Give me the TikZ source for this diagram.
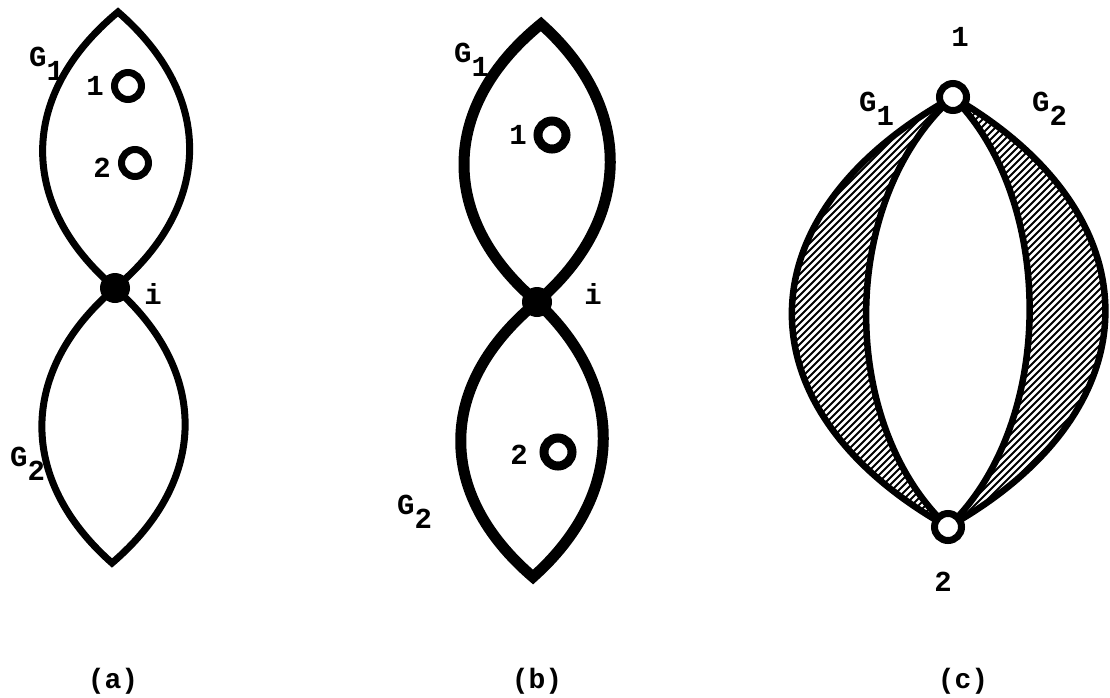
\documentclass[tikz,border=0pt]{standalone}
\usepackage{fontspec}
\setmonofont{Liberation Mono}
\usetikzlibrary{positioning}

\newcommand{\glab}[1]{G\raisebox{-14pt}{#1}}

\begin{document}
\begin{tikzpicture}[x=1pt, y=-1pt,
    every node/.style={font=\ttfamily\bfseries\fontsize{29}{29}\selectfont, inner sep=0pt},
    thinlens/.style={line width=7pt, line join=miter},
    thicklens/.style={line width=11pt, line join=miter},
    clens/.style={line width=6.5pt},
    hatch/.style={line width=2pt},
    vertex/.style={circle, draw, line width=7pt, fill=white, minimum size=27pt},
    bvertex/.style={vertex, line width=9pt, minimum size=28pt},
    hub/.style={circle, fill, minimum size=30pt},
    caption/.style={font=\ttfamily\bfseries\fontsize{28}{28}\selectfont}]
  \useasboundingbox (0,0) rectangle (1110,697);

  % (a)
  \coordinate (atop) at (118,12);
  \coordinate (ai) at (115,288);
  \coordinate (abot) at (112,563);
  \draw[thinlens] (atop) .. controls (18,95) and (18,205) .. (ai)
    .. controls (214,205) and (214,95) .. cycle;
  \draw[thinlens] (ai) .. controls (18,371) and (18,480) .. (abot)
    .. controls (209,480) and (209,371) .. cycle;
  \node[hub] (ahub) at (ai) {};
  \node[vertex] (a1) at (128,86) {};
  \node[vertex] (a2) at (135,163) {};
  \node at (95,86) {1};
  \node at (102,168) {2};
  \node at (153,294) {i};
  \node[anchor=base west] at (29,66) {\glab{1}};
  \node[anchor=base west] at (10,466) {\glab{2}};

  % (b)
  \coordinate (btop) at (541,24);
  \coordinate (bi) at (537,302);
  \coordinate (bbot) at (533,577);
  \draw[thicklens] (btop) .. controls (439,107) and (439,219) .. (bi)
    .. controls (634,219) and (634,107) .. cycle;
  \draw[thicklens] (bi) .. controls (436,385) and (436,494) .. (bbot)
    .. controls (626,494) and (626,385) .. cycle;
  \node[hub] (bhub) at (bi) {};
  \node[bvertex] (b1) at (552,135) {};
  \node[bvertex] (b2) at (558,452) {};
  \node at (518,135) {1};
  \node at (519,455) {2};
  \node at (593,294) {i};
  \node[anchor=base west] at (454,62) {\glab{1}};
  \node[anchor=base west] at (397,514) {\glab{2}};

  % (c)
  \coordinate (p1) at (953,97);
  \coordinate (p2) at (948,527);
  \begin{scope}
    \clip (p1) .. controls (739,215) and (739,410) .. (p2)
      .. controls (838,424) and (838,200) .. (p1)
      (p1) .. controls (1157,215) and (1157,410) .. (p2)
      .. controls (1056,424) and (1056,200) .. (p1);
    \foreach \k in {250,257,...,1060}
      \draw[hatch] (\k,600) -- ++(600,-600);
  \end{scope}
  \draw[clens] (p1) .. controls (739,215) and (739,410) .. (p2);
  \draw[clens] (p1) .. controls (838,200) and (838,424) .. (p2);
  \draw[clens] (p1) .. controls (1056,200) and (1056,424) .. (p2);
  \draw[clens] (p1) .. controls (1157,215) and (1157,410) .. (p2);
  \node[vertex] (v1) at (p1) {};
  \node[vertex] (v2) at (p2) {};
  \node at (960,37) {1};
  \node at (943,582) {2};
  \node[anchor=base west] at (859,111) {\glab{1}};
  \node[anchor=base west] at (1032,111) {\glab{2}};

  % captions
  \node[caption] at (113,681) {(a)};
  \node[caption] at (537,681) {(b)};
  \node[caption] at (963,681) {(c)};
\end{tikzpicture}
\end{document}
